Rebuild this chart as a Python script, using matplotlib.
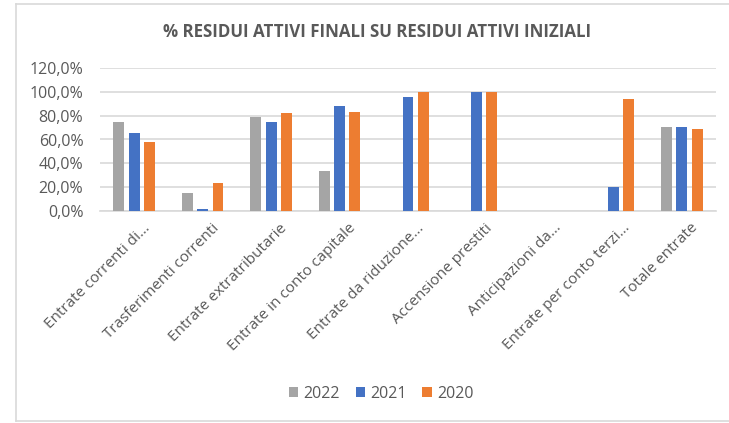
import numpy as np
import matplotlib
matplotlib.use("Agg")
import matplotlib.pyplot as plt
from matplotlib.lines import Line2D
from matplotlib.ticker import FuncFormatter
from matplotlib.transforms import ScaledTranslation

# -----------------------------
# Data (values in %)
# -----------------------------
categories = [
    "Entrate correnti di...",
    "Trasferimenti correnti",
    "Entrate extratributarie",
    "Entrate in conto capitale",
    "Entrate da riduzione...",
    "Accensione prestiti",
    "Anticipazioni da...",
    "Entrate per conto terzi...",
    "Totale entrate",
]
years = ["2022", "2021", "2020"]
vals_2022 = [74.6, 15.5, 78.9, 33.5, 0.0, 0.0, 0.0, 0.0, 70.7]
vals_2021 = [65.1, 1.7, 75.0, 88.5, 95.8, 100.0, 0.0, 20.5, 70.7]
vals_2020 = [57.7, 23.7, 82.2, 83.1, 100.0, 100.0, 0.0, 93.6, 69.0]

# -----------------------------
# Theme
# -----------------------------
COLORS = ["#A5A5A5", "#4472C4", "#ED7D31"]
TEXT = "#595959"
GRID = "#D9D9D9"

plt.rcParams["font.family"] = ["Open Sans", "DejaVu Sans"]

fig = plt.figure(figsize=(7.29, 4.23), dpi=100)
ax = fig.add_axes([100 / 729, 1 - 211 / 423, 616 / 729, 143 / 423])

x = np.arange(len(categories))
width = 0.16
offset = 0.224
for i, (vals, col, lab) in enumerate(zip([vals_2022, vals_2021, vals_2020], COLORS, years)):
    ax.bar(x + (i - 1) * offset, vals, width=width, color=col, label=lab, zorder=3)

ax.set_xlim(-0.5, len(categories) - 0.5)
ax.set_ylim(0, 120)
ax.set_yticks(range(0, 121, 20))
ax.yaxis.set_major_formatter(FuncFormatter(lambda v, p: f"{v:.1f}%".replace(".", ",")))
ax.grid(axis="y", color=GRID, linewidth=1.2, zorder=0)

for s in ["top", "right", "left"]:
    ax.spines[s].set_visible(False)
ax.spines["bottom"].set_color(GRID)
ax.spines["bottom"].set_linewidth(1.2)
ax.tick_params(axis="both", length=0, colors=TEXT, labelsize=11.5)
ax.tick_params(axis="y", pad=12)

ax.set_xticks(x)
ax.set_xticklabels(categories, rotation=45, ha="right", va="center",
                   rotation_mode="anchor", color=TEXT, fontsize=11)
for lbl in ax.get_xticklabels():
    lbl.set_transform(lbl.get_transform() + ScaledTranslation(0.14, -0.1, fig.dpi_scale_trans))

fig.text(377 / 729, 1 - 32 / 423, "% RESIDUI ATTIVI FINALI SU RESIDUI ATTIVI INIZIALI",
         ha="center", va="center", fontsize=12.2, fontweight="bold", color=TEXT)

fig.legend(loc="center", bbox_to_anchor=(381 / 729, 1 - 394 / 423), ncol=3,
           frameon=False, fontsize=11.5, labelcolor=TEXT, handlelength=0.6,
           handleheight=0.6, handletextpad=0.3, columnspacing=1.0)

# chart border
fig.add_artist(Line2D([16 / 729, 16 / 729], [1 - 421 / 423, 1 - 4 / 423], color=GRID, linewidth=1.2))
fig.add_artist(Line2D([16 / 729, 1], [1 - 4 / 423, 1 - 4 / 423], color=GRID, linewidth=1.2))
fig.add_artist(Line2D([16 / 729, 1], [1 - 421 / 423, 1 - 421 / 423], color=GRID, linewidth=1.2))

fig.savefig("out.png", dpi=100, facecolor="white")
